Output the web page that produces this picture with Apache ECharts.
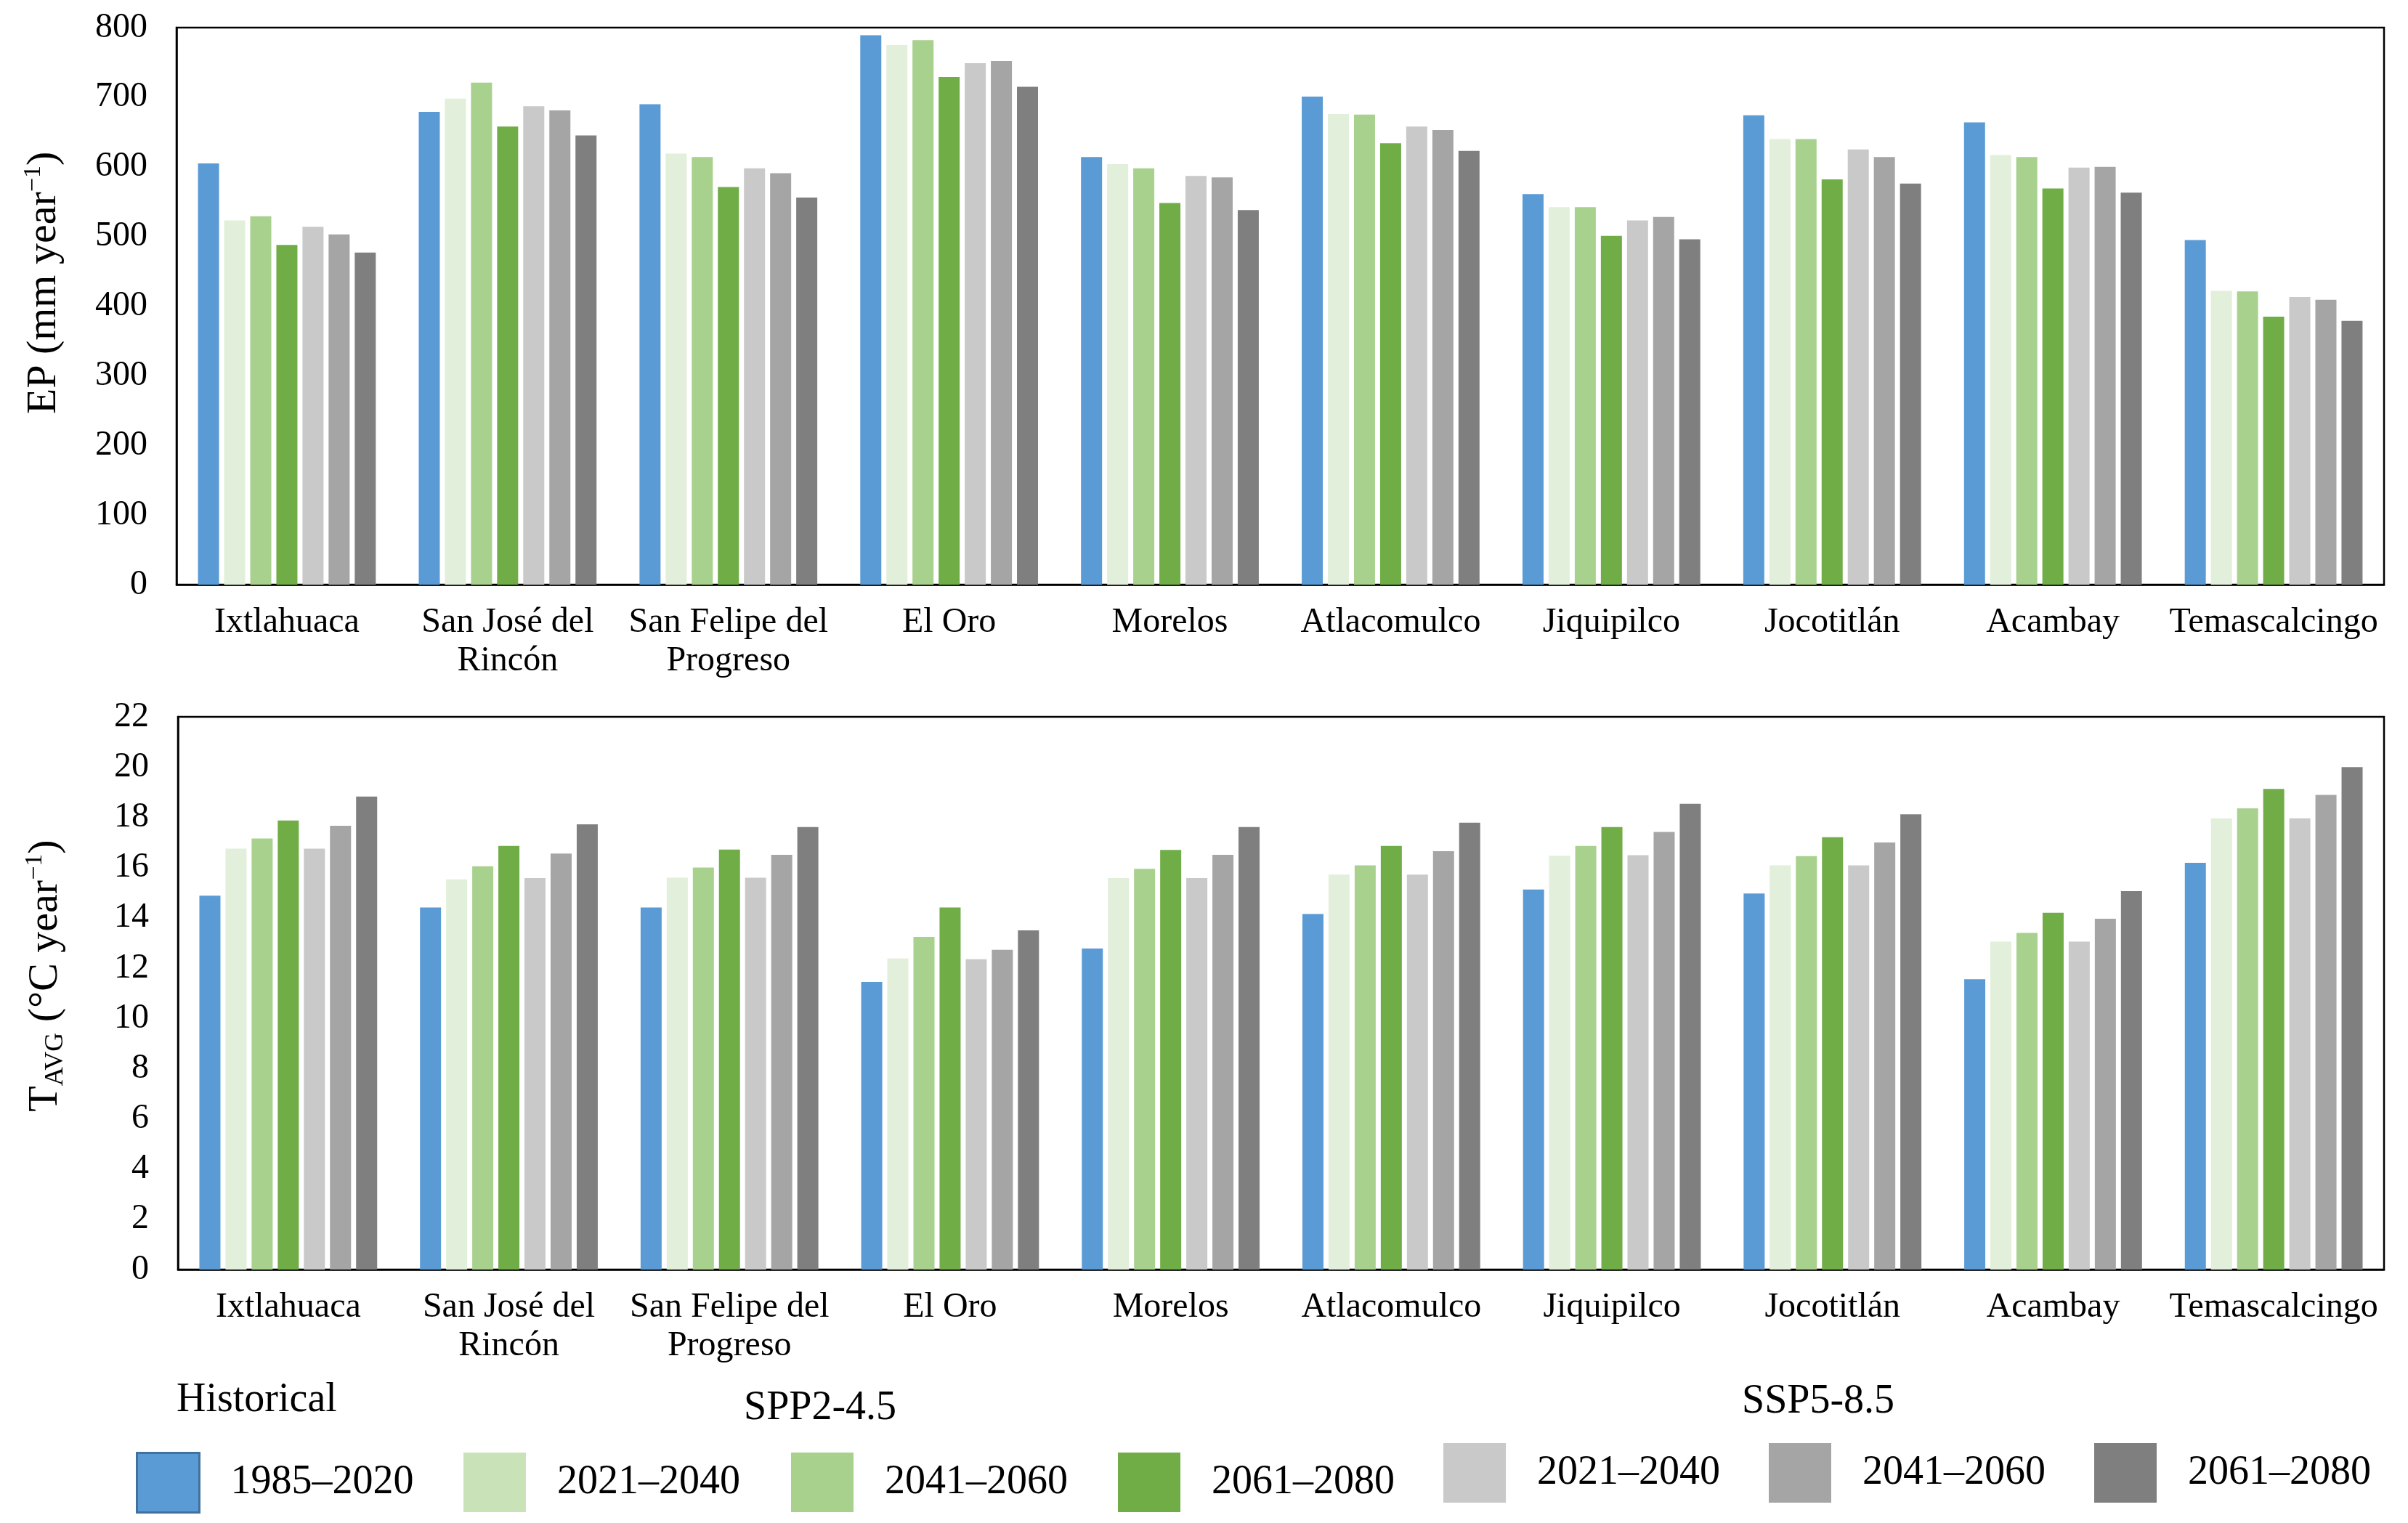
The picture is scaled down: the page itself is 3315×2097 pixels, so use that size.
<!DOCTYPE html>
<html>
<head>
<meta charset="utf-8">
<script src="https://cdn.jsdelivr.net/npm/echarts@6/dist/echarts.min.js"></script>
<style>
  html, body { margin: 0; padding: 0; background: #fff; }
  #main { width: 3315px; height: 2097px; }
</style>
</head>
<body>
<div id="main"></div>
<script>
// municipios
var places = ['Ixtlahuaca', 'San José del\nRincón', 'San Felipe del\nProgreso', 'El Oro', 'Morelos',
              'Atlacomulco', 'Jiquipilco', 'Jocotitlán', 'Acambay', 'Temascalcingo'];

// EP (mm/year)
var epHist  = [605, 679, 690, 789, 614, 701, 561, 674, 664, 495];
var epS2_40 = [523, 698, 619, 775, 604, 676, 542, 640, 617, 422];
var epS2_60 = [529, 721, 614, 782, 598, 675, 542, 640, 614, 421];
var epS2_80 = [488, 658, 571, 729, 548, 634, 501, 582, 569, 385];
var epS5_40 = [514, 687, 598, 749, 587, 658, 523, 625, 599, 413];
var epS5_60 = [503, 681, 591, 752, 585, 653, 528, 614, 600, 409];
var epS5_80 = [477, 645, 556, 715, 538, 623, 496, 576, 563, 379];

// T avg (°C/year)
var tHist  = [14.88, 14.41, 14.41, 11.45, 12.78, 14.15, 15.13, 14.97, 11.56, 16.19];
var tS2_40 = [16.75, 15.53, 15.60, 12.38, 15.58, 15.72, 16.47, 16.09, 13.05, 17.96];
var tS2_60 = [17.16, 16.05, 16.00, 13.24, 15.95, 16.09, 16.86, 16.46, 13.40, 18.36];
var tS2_80 = [17.87, 16.86, 16.72, 14.41, 16.70, 16.86, 17.61, 17.21, 14.20, 19.13];
var tS5_40 = [16.75, 15.58, 15.60, 12.35, 15.58, 15.72, 16.49, 16.09, 13.05, 17.96];
var tS5_60 = [17.66, 16.56, 16.51, 12.73, 16.51, 16.65, 17.42, 17.00, 13.96, 18.89];
var tS5_80 = [18.83, 17.72, 17.61, 13.50, 17.61, 17.79, 18.54, 18.12, 15.06, 20.00];

var seriesNames = ['Historical 1985–2020', 'SSP2-4.5 2021–2040', 'SSP2-4.5 2041–2060', 'SSP2-4.5 2061–2080',
                   'SSP5-8.5 2021–2040', 'SSP5-8.5 2041–2060', 'SSP5-8.5 2061–2080'];
var colors = ['#5B9BD5', '#E2EFDA', '#A9D18E', '#70AD47', '#C9C9C9', '#A5A5A5', '#7F7F7F'];
var legendColors = ['#5B9BD5', '#C9E2B8', '#A9D18E', '#70AD47', '#C9C9C9', '#A5A5A5', '#7F7F7F'];

var epData = [epHist, epS2_40, epS2_60, epS2_80, epS5_40, epS5_60, epS5_80];
var tData = [tHist, tS2_40, tS2_60, tS2_80, tS5_40, tS5_60, tS5_80];

var FONT = 'Liberation Serif';

function makeSeries(data, idx) {
    return data.map(function (vals, i) {
        return {
            name: seriesNames[i],
            type: 'bar',
            xAxisIndex: idx,
            yAxisIndex: idx,
            data: vals,
            barWidth: 29,
            barGap: '24%',
            itemStyle: { color: colors[i] }
        };
    });
}

function xAx(idx) {
    return {
        type: 'category',
        gridIndex: idx,
        data: places,
        axisTick: { show: false },
        axisLine: { lineStyle: { color: '#000', width: 2.5 } },
        axisLabel: {
            color: '#000', fontFamily: FONT, fontSize: 48, lineHeight: 53,
            margin: 26, interval: 0
        }
    };
}

function yAx(idx, max, interval, name, gap, shift) {
    return {
        type: 'value',
        gridIndex: idx,
        min: 0, max: max, interval: interval,
        splitLine: { show: false },
        axisTick: { show: false },
        axisLine: { show: true, lineStyle: { color: '#000', width: 2.5 } },
        axisLabel: { color: '#000', fontFamily: FONT, fontSize: 48, margin: 40 },
        name: name,
        nameLocation: 'middle',
        nameRotate: 90,
        nameGap: gap,
        nameTextStyle: {
            color: '#000', fontFamily: FONT, fontSize: 58,
            padding: [0, 0, 0, shift],
            rich: {
                t: { fontFamily: FONT, fontSize: 58, color: '#000', lineHeight: 64, verticalAlign: 'middle' },
                sup: { fontFamily: FONT, fontSize: 34, color: '#000', lineHeight: 64, verticalAlign: 'top' },
                sub: { fontFamily: FONT, fontSize: 36, color: '#000', lineHeight: 64, verticalAlign: 'bottom' }
            }
        }
    };
}

var legends = [
    [187, 1999], [638, 2000], [1089, 2000], [1539, 2000], [1987, 1987], [2435, 1987], [2883, 1987]
].map(function (p, i) {
    var st = { color: legendColors[i] };
    if (i === 0) { st.borderColor = '#41719C'; st.borderWidth = 3; }
    return {
        left: p[0], top: p[1],
        padding: 0,
        icon: 'rect',
        itemWidth: 86, itemHeight: 82,
        selectedMode: false,
        data: [{ name: seriesNames[i], itemStyle: st }],
        formatter: function (n) { return n.split(' ')[1]; },
        textStyle: { color: '#000', fontFamily: FONT, fontSize: 56, padding: [0, 0, 0, 38] }
    };
});

var option = {
    animation: false,
    backgroundColor: '#fff',
    grid: [
        { left: 243, top: 38, right: 33, height: 767, show: true, borderColor: '#000', borderWidth: 2.5 },
        { left: 245, top: 987, right: 33, height: 761, show: true, borderColor: '#000', borderWidth: 2.5 }
    ],
    xAxis: [xAx(0), xAx(1)],
    yAxis: [
        yAx(0, 800, 100, '{t|EP (mm year}{sup|−1}{t|)}', 150, 64),
        yAx(1, 22, 2, '{t|T}{sub|AVG}{t| (°C year}{sup|−1}{t|)}', 150, 48)
    ],
    legend: legends,
    graphic: [
        { type: 'text', left: 243, top: 1900, style: { text: 'Historical', fill: '#000', font: '56px "Liberation Serif"' } },
        { type: 'text', left: 1142 - 118, top: 1911, style: { text: 'SPP2-4.5', fill: '#000', font: '56px "Liberation Serif"' } },
        { type: 'text', left: 2516 - 118, top: 1902, style: { text: 'SSP5-8.5', fill: '#000', font: '56px "Liberation Serif"' } }
    ],
    series: makeSeries(epData, 0).concat(makeSeries(tData, 1))
};

var chart = echarts.init(document.getElementById('main'));
chart.setOption(option);
</script>
</body>
</html>
